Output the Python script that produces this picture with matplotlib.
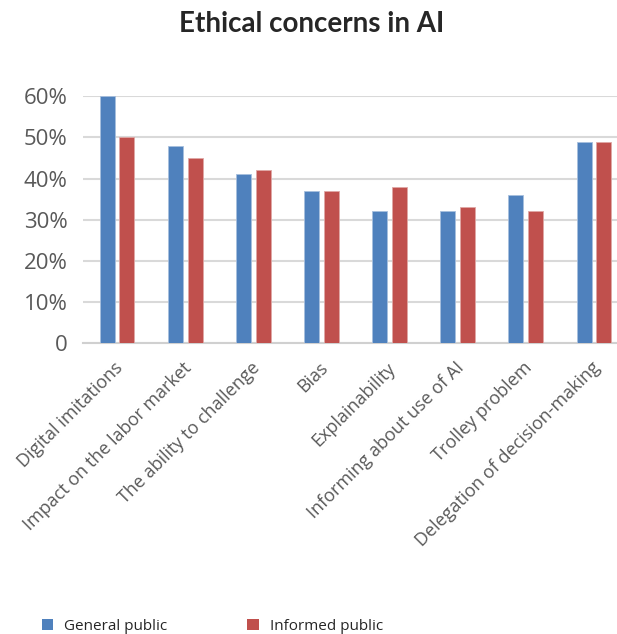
import matplotlib
matplotlib.use("Agg")
import matplotlib.pyplot as plt
from matplotlib.patches import Patch
import numpy as np

categories = [
    "Digital imitations",
    "Impact on the labor market",
    "The ability to challenge",
    "Bias",
    "Explainability",
    "Informing about use of AI",
    "Trolley problem",
    "Delegation of decision-making",
]
general_public = [60, 48, 41, 37, 32, 32, 36, 49]
informed_public = [50, 45, 42, 37, 38, 33, 32, 49]
series_names = ["General public", "Informed public"]
y_ticks = [0, 10, 20, 30, 40, 50, 60]
y_tick_labels = ["0", "10%", "20%", "30%", "40%", "50%", "60%"]

BLUE = "#4F81BD"
RED = "#C0504D"
TEXT = "#595959"

plt.rcParams["font.family"] = ["Open Sans", "DejaVu Sans"]

fig = plt.figure(figsize=(6.17, 6.34), dpi=100)
ax = fig.add_axes([83 / 617, 1 - 343 / 634, (628 - 83) / 617, (343 - 96.3) / 634])

x = np.arange(len(categories))
w = 0.22
off = 0.145
ax.bar(x - off, general_public, width=w, color=BLUE, edgecolor="#A7BFDE", linewidth=0.6, zorder=3)
ax.bar(x + off, informed_public, width=w, color=RED, edgecolor="#E0A8A6", linewidth=0.6, zorder=3)

ax.set_xlim(-0.5, len(categories) - 0.5)
ax.set_ylim(0, 60)
ax.set_yticks(y_ticks)
ax.set_yticklabels(y_tick_labels, fontsize=16, color=TEXT)
ax.yaxis.grid(True, color="#D9D9D9", linewidth=1.5, zorder=0)
ax.set_axisbelow(True)
ax.tick_params(axis="y", length=0, pad=11)
ax.tick_params(axis="x", length=0, pad=16)
for s in ["top", "right", "left"]:
    ax.spines[s].set_visible(False)
ax.spines["bottom"].set_color("#D0D0D0")
ax.spines["bottom"].set_linewidth(1.5)

ax.set_xticks(x + 0.05)
ax.set_xticklabels(categories, rotation=45, ha="right", va="center",
                   rotation_mode="anchor", fontsize=13, color=TEXT)

fig.text(0.505, 0.962, "Ethical concerns in AI", ha="center", va="center",
         fontsize=20, fontweight="bold", color="#262626", family=["Lato", "DejaVu Sans"])

handles = [Patch(facecolor=BLUE), Patch(facecolor=RED)]
fig.legend(handles, series_names, loc="lower left", bbox_to_anchor=(0.045, -0.022),
           ncol=2, frameon=False, fontsize=11, handlelength=0.75, handleheight=0.75,
           columnspacing=5.2, handletextpad=0.75, labelcolor="#262626")

fig.savefig("out.png", dpi=100)
